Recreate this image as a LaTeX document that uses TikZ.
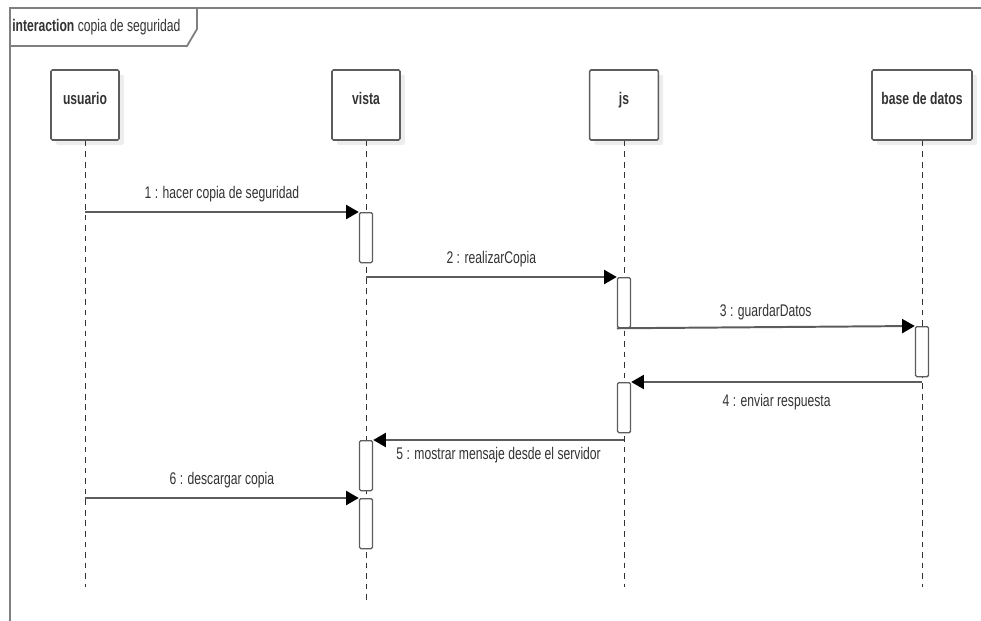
\documentclass[tikz,border=0pt]{standalone}
\usepackage{fontspec}
\setmainfont[FakeStretch=0.72]{Liberation Sans}
\usetikzlibrary{arrows.meta,shadows}
\definecolor{umlline}{HTML}{5C5C5C}
\definecolor{umltext}{HTML}{333333}
\definecolor{umlframe}{HTML}{808080}

\begin{document}
\begin{tikzpicture}[
    x=0.025cm, y=-0.025cm,
    >={Triangle[length=9pt,width=10pt,color=black]},
    head/.style={
      rectangle, rounded corners=1pt,
      minimum height=1.75cm, inner sep=0pt,
      text height=0.85cm, text depth=0.9cm,
      fill=white, draw=umlline, line width=1.1pt,
      text=umltext, font=\fontsize{12}{14}\selectfont\bfseries,
      drop shadow={shadow xshift=0.12cm, shadow yshift=-0.12cm, fill=black!7, opacity=1},
    },
    act/.style={
      rectangle, rounded corners=1pt, anchor=north,
      minimum width=0.33cm, minimum height=1.25cm, inner sep=0pt,
      fill=white, draw=umlline, line width=0.9pt,
    },
    life/.style={draw=black!80, line width=0.5pt, dash pattern=on 4pt off 3.5pt},
    msg/.style={->, draw=umlline, line width=1.4pt},
    lbl/.style={font=\fontsize{12}{14}\selectfont, text=umltext},
    frame/.style={draw=umlframe, line width=1.3pt},
  ]
  \useasboundingbox (0,0) rectangle (981,620);

  % ---- Frame ----
  \draw[frame] (10,640) -- (10,8) -- (1000,8);
  \draw[frame] (10,46) -- (187,46) -- (197,29) -- (197,8);
  \node[lbl, anchor=west, inner sep=0pt] (title) at (12,27) {\textbf{interaction} copia de seguridad};

  % ---- Lifeline heads ----
  \node[head, minimum width=1.7cm]  (usuario) at (85,105)  {usuario};
  \node[head, minimum width=1.7cm]  (vista)   at (366,105) {vista};
  \node[head, minimum width=1.72cm] (js)      at (624,105) {js};
  \node[head, minimum width=2.5cm]  (bd)      at (922,105) {base de datos};

  % ---- Lifelines ----
  \coordinate (usuario-end) at (85,587);
  \coordinate (vista-end)   at (366,602);
  \coordinate (js-end)      at (624,587);
  \coordinate (bd-end)      at (922,587);
  \draw[life] (usuario.south) -- (usuario-end);
  \draw[life] (vista.south)   -- (vista-end);
  \draw[life] (js.south)      -- (js-end);
  \draw[life] (bd.south)      -- (bd-end);

  % ---- Activations ----
  \node[act] (a1) at (366,212) {};
  \node[act] (a2) at (624,277) {};
  \node[act] (a3) at (922,326) {};
  \node[act] (a4) at (624,382) {};
  \node[act] (a5) at (366,440) {};
  \node[act] (a6) at (366,498) {};

  % ---- Messages ----
  \coordinate (m1s) at (85,212);
  \draw[msg] (m1s) -- (a1.north west)
    node[lbl, midway, above=3pt] (l1) {1 : hacer copia de seguridad};

  \coordinate (m2s) at (366,277);
  \draw[msg] (m2s) -- (a2.north west)
    node[lbl, midway, above=3pt] (l2) {2 : realizarCopia};

  \draw[msg] (a2.south west) -- (a3.north west)
    node[lbl, midway, above=1pt] (l3) {3 : guardarDatos};

  \coordinate (m4s) at (922,382);
  \draw[msg] (m4s) -- (a4.north east)
    node[lbl, midway, below=5pt] (l4) {4 : enviar respuesta};

  \coordinate (m5s) at (624,440);
  \draw[msg] (m5s) -- (a5.north east)
    node[lbl, midway, below=1pt] (l5) {5 : mostrar mensaje desde el servidor};

  \coordinate (m6s) at (85,498);
  \draw[msg] (m6s) -- (a6.north west)
    node[lbl, midway, above=3pt] (l6) {6 : descargar copia};

\end{tikzpicture}
\end{document}
